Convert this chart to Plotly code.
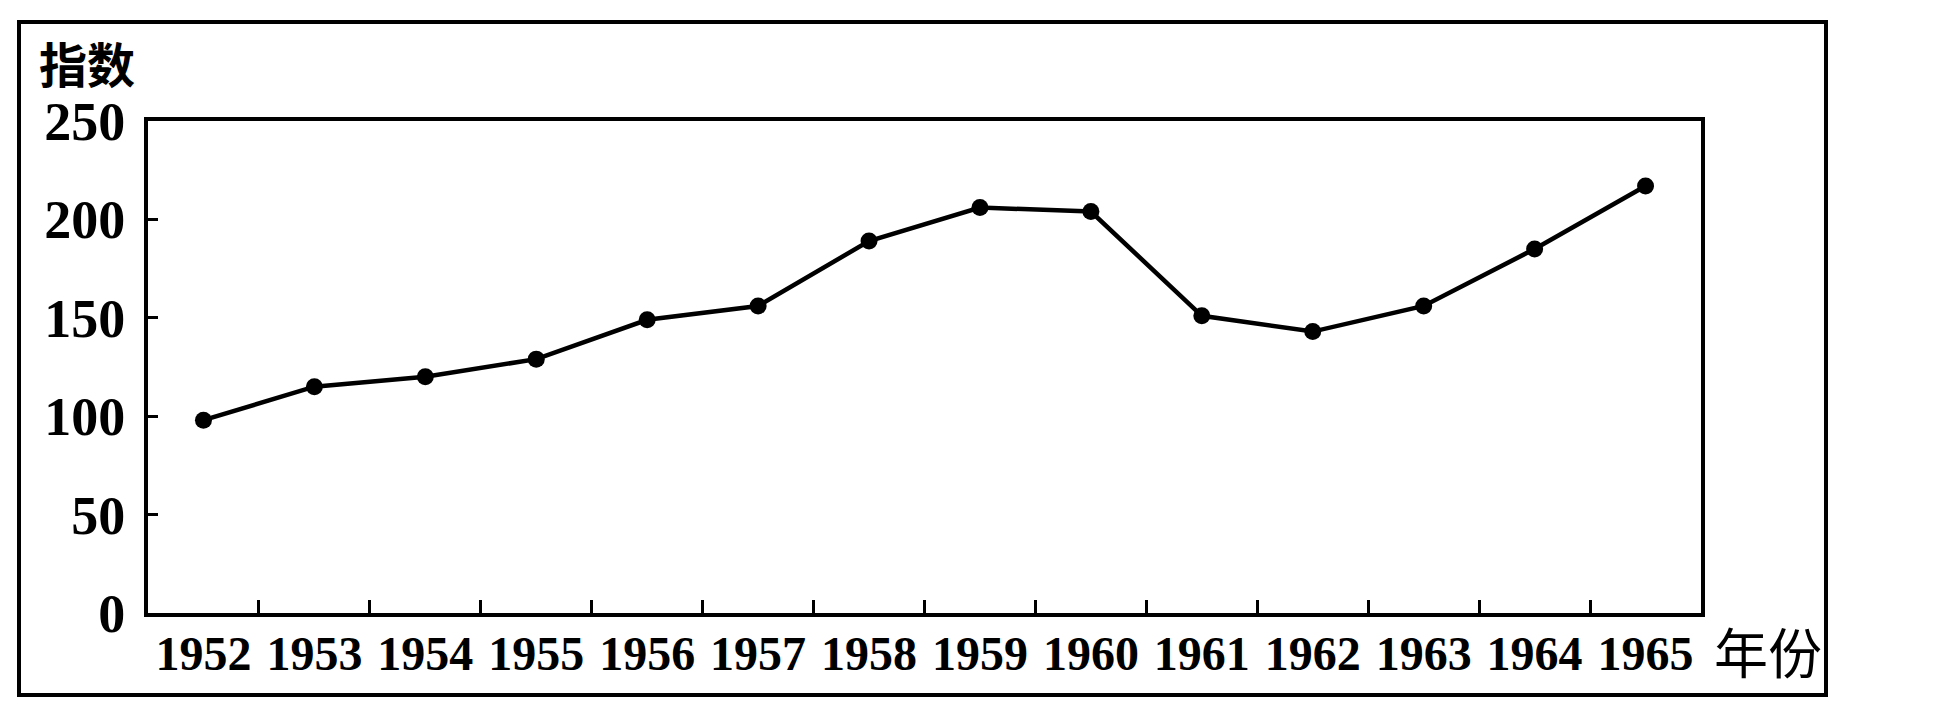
import plotly.graph_objects as go

years = [1952, 1953, 1954, 1955, 1956, 1957, 1958, 1959, 1960, 1961, 1962, 1963, 1964, 1965]
index_values = [98, 115, 120, 129, 149, 156, 189, 206, 204, 151, 143, 156, 185, 217]
y_ticks = [0, 50, 100, 150, 200, 250]
x_tick_labels = [str(y) for y in years]
y_title = "指数"
x_title = "年份"

W, H = 1936, 712
L, R, T, B = 140, 1693, 113, 605
pw, ph = R - L, B - T


def px(x):
    return (x - L) / pw


def py(y):
    return (B - y) / ph


fig = go.Figure()
fig.add_trace(go.Scatter(
    x=years, y=index_values, mode="lines+markers",
    line=dict(color="black", width=4.5),
    marker=dict(color="black", size=17),
    showlegend=False, cliponaxis=False,
))

digit_font = dict(family="Liberation Serif", color="black", weight="bold")

fig.update_layout(
    width=W, height=H,
    margin=dict(l=L, r=W - R, t=T, b=H - B, pad=0),
    paper_bgcolor="white", plot_bgcolor="white",
    xaxis=dict(
        range=[1951.5, 1965.5], tickmode="array", tickvals=years, ticktext=x_tick_labels,
        ticks="", showgrid=False, zeroline=False,
        showline=True, linecolor="black", linewidth=4, mirror=True,
        tickfont=dict(size=48, **digit_font), ticklabelstandoff=-5,
        minor=dict(tickmode="array", tickvals=[y + 0.5 for y in years[:-1]],
                   ticks="inside", ticklen=13, tickwidth=3, tickcolor="black", showgrid=False),
    ),
    yaxis=dict(
        range=[0, 250], tickmode="array", tickvals=y_ticks, ticktext=[str(v) for v in y_ticks],
        ticks="inside", ticklen=10, tickwidth=3, tickcolor="black",
        showgrid=False, zeroline=False,
        showline=True, linecolor="black", linewidth=4, mirror=True,
        tickfont=dict(size=54, **digit_font), ticklabelstandoff=8,
    ),
    shapes=[dict(type="rect", xref="paper", yref="paper",
                 x0=px(11), x1=px(1818), y0=py(687), y1=py(14),
                 line=dict(color="black", width=4), layer="below")],
    annotations=[
        dict(text=y_title, xref="paper", yref="paper", x=px(29), y=py(54),
             xanchor="left", yanchor="middle", showarrow=False,
             font=dict(family="Noto Sans CJK SC", size=48, color="black", weight="bold")),
        dict(text=x_title, xref="paper", yref="paper", x=px(1704), y=py(642),
             xanchor="left", yanchor="middle", showarrow=False,
             font=dict(family="Noto Sans CJK SC", size=54, color="black")),
    ],
)

fig.write_html("out.html")
